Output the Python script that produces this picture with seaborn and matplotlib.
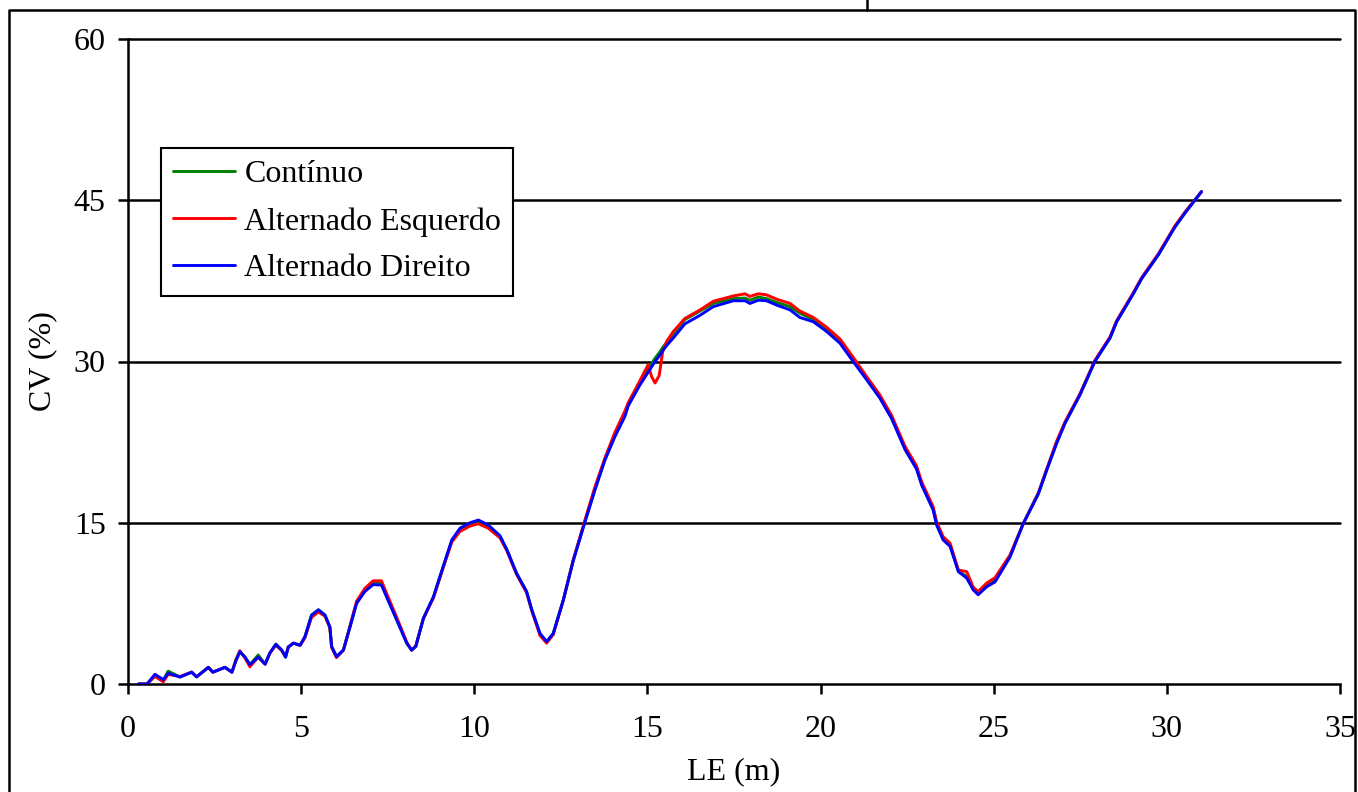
import matplotlib
matplotlib.use("Agg")
import matplotlib.pyplot as plt
from matplotlib.lines import Line2D
import seaborn as sns
import pandas as pd

# ---- data ----
le = [0.3, 0.55, 0.78, 1.02, 1.16, 1.5, 1.84, 1.98, 2.32, 2.45, 2.8, 3.0, 3.12, 3.23, 3.38, 3.52,
      3.76, 3.96, 4.1, 4.27, 4.44, 4.55, 4.63, 4.78, 4.97, 5.11, 5.3, 5.5, 5.69, 5.83, 5.88, 6.02,
      6.22, 6.41, 6.6, 6.84, 7.08, 7.32, 7.42, 7.76, 8.05, 8.19, 8.31, 8.53, 8.82, 9.1, 9.35, 9.59,
      9.88, 10.12, 10.4, 10.74, 10.94, 11.22, 11.51, 11.66, 11.9, 12.09, 12.28, 12.57, 12.86, 13.2,
      13.48, 13.77, 14.06, 14.35, 14.45, 14.78, 15.02, 15.12, 15.22, 15.34, 15.44, 15.56, 15.75,
      16.08, 16.52, 16.9, 17.48, 17.82, 17.96, 18.2, 18.44, 18.73, 19.12, 19.4, 19.79, 20.17, 20.56,
      20.94, 21.33, 21.71, 22.05, 22.44, 22.77, 22.92, 23.25, 23.35, 23.54, 23.74, 23.98, 24.22,
      24.41, 24.55, 24.8, 25.04, 25.47, 25.85, 26.29, 26.53, 26.82, 27.06, 27.49, 27.92, 28.36,
      28.55, 29.03, 29.27, 29.75, 30.23, 30.52, 31.0]

cv_direito = [0.0, 0.0, 0.9, 0.4, 1.0, 0.65, 1.1, 0.66, 1.55, 1.1, 1.55, 1.1, 2.2, 3.0, 2.5, 1.8,
              2.5, 1.85, 2.9, 3.7, 3.15, 2.5, 3.45, 3.8, 3.6, 4.4, 6.4, 6.9, 6.4, 5.3, 3.5, 2.55,
              3.15, 5.3, 7.5, 8.6, 9.25, 9.2, 8.45, 5.95, 3.8, 3.15, 3.5, 6.1, 8.1, 10.9, 13.4, 14.5,
              15.0, 15.25, 14.8, 13.8, 12.5, 10.3, 8.6, 6.9, 4.7, 3.95, 4.7, 7.8, 11.5, 15.1,
              18.0, 20.8, 23.0, 24.9, 25.9, 27.8, 29.0, 29.5, 30.0, 30.5, 31.0, 31.5, 32.2,
              33.5, 34.3, 35.1, 35.65, 35.65, 35.4, 35.7, 35.65, 35.25, 34.8, 34.1, 33.7, 32.8, 31.7,
              30.0, 28.3, 26.6, 24.7, 21.8, 20.0, 18.5, 16.2, 14.8, 13.4, 12.8, 10.45, 9.85,
              8.75, 8.3, 9.05, 9.5, 11.8, 14.9, 17.7, 19.9, 22.4, 24.25, 26.9, 30.0, 32.2,
              33.7, 36.3, 37.7, 39.9, 42.5, 43.8, 45.8]

cv_continuo = [0.0, 0.0, 0.85, 0.35, 1.2, 0.65, 1.1, 0.66, 1.55, 1.1, 1.55, 1.1, 2.2, 3.0, 2.5, 1.8,
               2.7, 1.85, 2.9, 3.7, 3.15, 2.5, 3.45, 3.8, 3.6, 4.4, 6.4, 6.9, 6.4, 5.3, 3.5, 2.55,
               3.15, 5.3, 7.5, 8.7, 9.4, 9.35, 8.55, 6.0, 3.8, 3.15, 3.5, 6.1, 8.1, 10.9, 13.3, 14.4,
               14.9, 15.1, 14.7, 13.75, 12.5, 10.3, 8.6, 6.9, 4.6, 3.9, 4.7, 7.8, 11.5, 15.2,
               18.1, 20.9, 23.2, 25.1, 26.1, 28.0, 29.3, 29.8, 30.3, 30.8, 31.3, 31.8, 32.6,
               33.9, 34.7, 35.4, 35.85, 35.9, 35.7, 36.0, 35.85, 35.5, 35.1, 34.5, 33.9, 33.0, 31.9,
               30.2, 28.4, 26.7, 24.8, 21.9, 20.1, 18.6, 16.3, 14.9, 13.5, 12.9, 10.5, 10.0,
               8.9, 8.5, 9.3, 9.7, 11.9, 14.9, 17.7, 19.9, 22.5, 24.3, 26.9, 30.0, 32.2,
               33.7, 36.3, 37.7, 39.9, 42.5, 43.8, 45.8]

cv_esquerdo = [0.0, 0.0, 0.7, 0.2, 0.9, 0.7, 1.1, 0.66, 1.55, 1.1, 1.55, 1.1, 2.3, 3.1, 2.4, 1.6,
               2.5, 1.85, 2.9, 3.6, 3.1, 2.6, 3.45, 3.8, 3.6, 4.3, 6.2, 6.7, 6.3, 5.2, 3.4, 2.45,
               3.15, 5.4, 7.7, 8.9, 9.6, 9.6, 8.8, 6.2, 3.9, 3.15, 3.5, 6.1, 8.0, 10.8, 13.2, 14.2,
               14.7, 14.9, 14.5, 13.6, 12.4, 10.2, 8.5, 6.8, 4.5, 3.8, 4.6, 7.8, 11.6, 15.3,
               18.3, 21.0, 23.4, 25.4, 26.2, 28.2, 29.7, 28.6, 28.0, 28.7, 30.9, 31.9, 32.8,
               34.0, 34.8, 35.6, 36.1, 36.3, 36.05, 36.3, 36.2, 35.8, 35.4, 34.7, 34.1, 33.2, 32.1,
               30.4, 28.6, 26.9, 25.0, 22.1, 20.3, 18.8, 16.5, 15.1, 13.7, 13.1, 10.6, 10.45,
               9.0, 8.6, 9.4, 9.9, 12.0, 14.9, 17.8, 20.0, 22.6, 24.4, 27.0, 30.1, 32.3,
               33.8, 36.4, 37.8, 40.0, 42.6, 43.9, 45.8]

series_names = ["Contínuo", "Alternado Esquerdo", "Alternado Direito"]
series_colors = ["#008000", "#FF0000", "#0000FF"]
x_ticks = [0, 5, 10, 15, 20, 25, 30, 35]
y_ticks = [0, 15, 30, 45, 60]

frames = []
for name, vals in zip(series_names, [cv_continuo, cv_esquerdo, cv_direito]):
    frames.append(pd.DataFrame({"LE": le, "CV": vals, "serie": name}))
df = pd.concat(frames, ignore_index=True)

# ---- style ----
sns.set_theme(style="white")
plt.rcParams["font.family"] = ["Liberation Serif", "DejaVu Serif"]
plt.rcParams["text.color"] = "black"
plt.rcParams["axes.labelcolor"] = "black"
FS = 23
LW = 2.1

fig = plt.figure(figsize=(13.58, 7.92), dpi=100)
ax = fig.add_axes([128 / 1358, 1 - 684 / 792, (1340 - 128) / 1358, (684 - 39) / 792])

sns.lineplot(data=df, x="LE", y="CV", hue="serie", hue_order=series_names,
             palette=series_colors, sort=False, estimator=None, units="serie",
             linewidth=LW, ax=ax, legend=False, zorder=3)

ax.set_xlim(0, 35)
ax.set_ylim(0, 60)
ax.set_xticks(x_ticks)
ax.set_yticks(y_ticks)
ax.set_xticklabels([str(t) for t in x_ticks])
ax.set_yticklabels([str(t) for t in y_ticks])

for yv in y_ticks[1:]:
    ax.axhline(yv, color="black", lw=1.8, clip_on=False, zorder=1)

for s in ["top", "right"]:
    ax.spines[s].set_visible(False)
for s in ["left", "bottom"]:
    ax.spines[s].set_color("black")
    ax.spines[s].set_linewidth(1.8)

ax.tick_params(axis="both", direction="out", length=7, width=1.8, colors="black",
               labelsize=FS, left=True, bottom=True)
ax.tick_params(axis="x", pad=15)
ax.tick_params(axis="y", pad=9)

ax.set_xlabel("LE (m)", fontsize=FS, color="black", labelpad=10)
ax.set_ylabel("CV (%)", fontsize=FS, color="black", labelpad=12)

handles = [Line2D([0], [0], color=c, lw=LW) for c in series_colors]
leg = ax.legend(handles, series_names, loc="upper left",
                bbox_to_anchor=(161 / 1358, 1 - 148 / 792), bbox_transform=fig.transFigure,
                borderaxespad=0, fontsize=FS, frameon=True, fancybox=False,
                handlelength=1.95, handletextpad=0.28, labelspacing=0.55,
                borderpad=0.38)
leg.get_frame().set_edgecolor("black")
leg.get_frame().set_linewidth(1.5)
leg.get_frame().set_facecolor("white")
leg.get_frame().set_alpha(1)
leg.set_zorder(5)
for t in leg.get_texts():
    t.set_color("black")

# outer frame of the page
def fline(xs, ys):
    fig.add_artist(Line2D([x / 1358 for x in xs], [1 - y / 792 for y in ys],
                          transform=fig.transFigure, color="black", lw=1.8))

fline([9, 9, 1355, 1355], [800, 10, 10, 800])
fline([867, 867], [0, 10])

fig.savefig("out.png", dpi=100)
